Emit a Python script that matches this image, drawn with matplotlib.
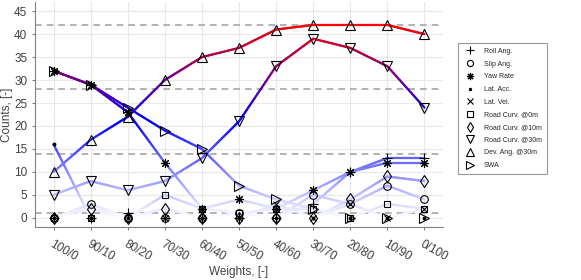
import numpy as np
import matplotlib

matplotlib.use("Agg")
import matplotlib.pyplot as plt
from matplotlib.collections import LineCollection
from matplotlib.lines import Line2D

plt.rcParams["font.family"] = ["Liberation Sans", "DejaVu Sans"]

# Datos (conteos por combinacion de pesos).
weights = ["100/0", "90/10", "80/20", "70/30", "60/40", "50/50",
           "40/60", "30/70", "20/80", "10/90", "0/100"]
roll_ang = [0, 0, 1, 0, 0, 0, 0, 3, 10, 13, 13]
slip_ang = [0, 3, 0, 0, 0, 1, 0, 5, 3, 7, 4]
yaw_rate = [32, 29, 23, 12, 2, 4, 2, 6, 10, 12, 12]
lat_acc = [16, 0, 0, 0, 0, 0, 0, 0, 0, 0, 0]
lat_vel = [0, 0, 0, 0, 0, 0, 3, 0, 3, 0, 2]
road_curv_0 = [0, 0, 0, 5, 2, 1, 2, 2, 0, 3, 2]
road_curv_10 = [0, 2, 0, 2, 0, 0, 0, 0, 4, 9, 8]
road_curv_30 = [5, 8, 6, 8, 13, 21, 33, 39, 37, 33, 24]
dev_ang_30 = [10, 17, 22, 30, 35, 37, 41, 42, 42, 42, 40]
swa = [32, 29, 24, 19, 15, 7, 4, 2, 0, 0, 0]
ref_levels = [1, 14, 28, 42]

# (etiqueta, valores, marcador, tamano)
series = [
    ("Roll Ang.", roll_ang, "+", 7),
    ("Slip Ang.", slip_ang, "o", 5.5),
    ("Yaw Rate", yaw_rate, (8, 2, 0), 6.5),
    ("Lat. Acc.", lat_acc, ".", 4),
    ("Lat. Vel.", lat_vel, "x", 5),
    ("Road Curv. @0m", road_curv_0, "s", 5),
    ("Road Curv. @10m", road_curv_10, "d", 6.5),
    ("Road Curv. @30m", road_curv_30, "v", 7),
    ("Dev. Ang. @30m", dev_ang_30, "^", 7),
    ("SWA", swa, ">", 7),
]


def value_color(v, vmax=42.0):
    """Blanco -> azul (mitad) -> rojo (maximo)."""
    half = vmax / 2.0
    if v <= half:
        t = max(v, 0) / half
        return (1 - t, 1 - t, 1.0)
    t = min((v - half) / half, 1.0)
    return (t, 0.0, 1 - t)


def gradient_line(ax, x, y, steps=24):
    """Linea con color segun el valor (gradiente a lo largo de cada tramo)."""
    segs, cols = [], []
    for i in range(len(x) - 1):
        xs = np.linspace(x[i], x[i + 1], steps + 1)
        ys = np.linspace(y[i], y[i + 1], steps + 1)
        for j in range(steps):
            segs.append([(xs[j], ys[j]), (xs[j + 1], ys[j + 1])])
            cols.append(value_color(0.5 * (ys[j] + ys[j + 1])))
    lc = LineCollection(segs, colors=cols, linewidths=1.6, capstyle="round", zorder=2)
    ax.add_collection(lc)


def marker_style(mk, ms):
    face = "black" if mk == "." else "none"
    return dict(ls="none", marker=mk, ms=ms, mfc=face, mec="black", mew=0.8)


fig = plt.figure(figsize=(5.81, 2.8), dpi=100)
ax = fig.add_axes([35 / 581, 1 - 227 / 280, (443 - 35) / 581, 225 / 280])

x = np.arange(len(weights))
for lvl in ref_levels:
    ax.axhline(lvl, color="#a6a6a6", ls=(0, (4, 3)), lw=1.2, zorder=1)

for label, vals, mk, ms in series:
    gradient_line(ax, x, vals)

handles = []
for label, vals, mk, ms in series:
    ax.plot(x, vals, zorder=3, **marker_style(mk, ms))
    handles.append(Line2D([], [], label=label, **marker_style(mk, ms)))

ax.set_xlim(-0.5, 10.5)
ax.set_ylim(-2, 47)
ax.set_yticks(range(0, 50, 5))
ax.set_xticks(x)
ax.set_xticklabels(weights, rotation=-30, ha="left", rotation_mode="anchor")
ax.grid(True, color="#e8e8e8", lw=0.8, zorder=0)
ax.set_axisbelow(True)
for side in ("top", "right"):
    ax.spines[side].set_visible(False)
for side in ("left", "bottom"):
    ax.spines[side].set_color("#808080")
ax.tick_params(colors="#808080", labelcolor="#404040", labelsize=8.5, length=2)
ax.tick_params(axis="x", pad=6)
ax.set_xlabel("Weights, [-]", fontsize=8.5, color="#404040", labelpad=2)
ax.set_ylabel("Counts, [-]", fontsize=8.5, color="#404040")
ax.yaxis.set_label_coords(-0.053, 0.5)

leg = fig.legend(handles=handles, loc="upper left",
                 bbox_to_anchor=(458 / 581, 1 - 43 / 280), fontsize=5,
                 frameon=True, fancybox=False, edgecolor="#808080",
                 markerscale=0.8, handlelength=2.0, handletextpad=1.0,
                 labelspacing=0.82, borderpad=0.7, borderaxespad=0)
leg.get_frame().set_linewidth(0.8)
for t in leg.get_texts():
    t.set_color("#262626")

fig.savefig("out.png", dpi=100)
